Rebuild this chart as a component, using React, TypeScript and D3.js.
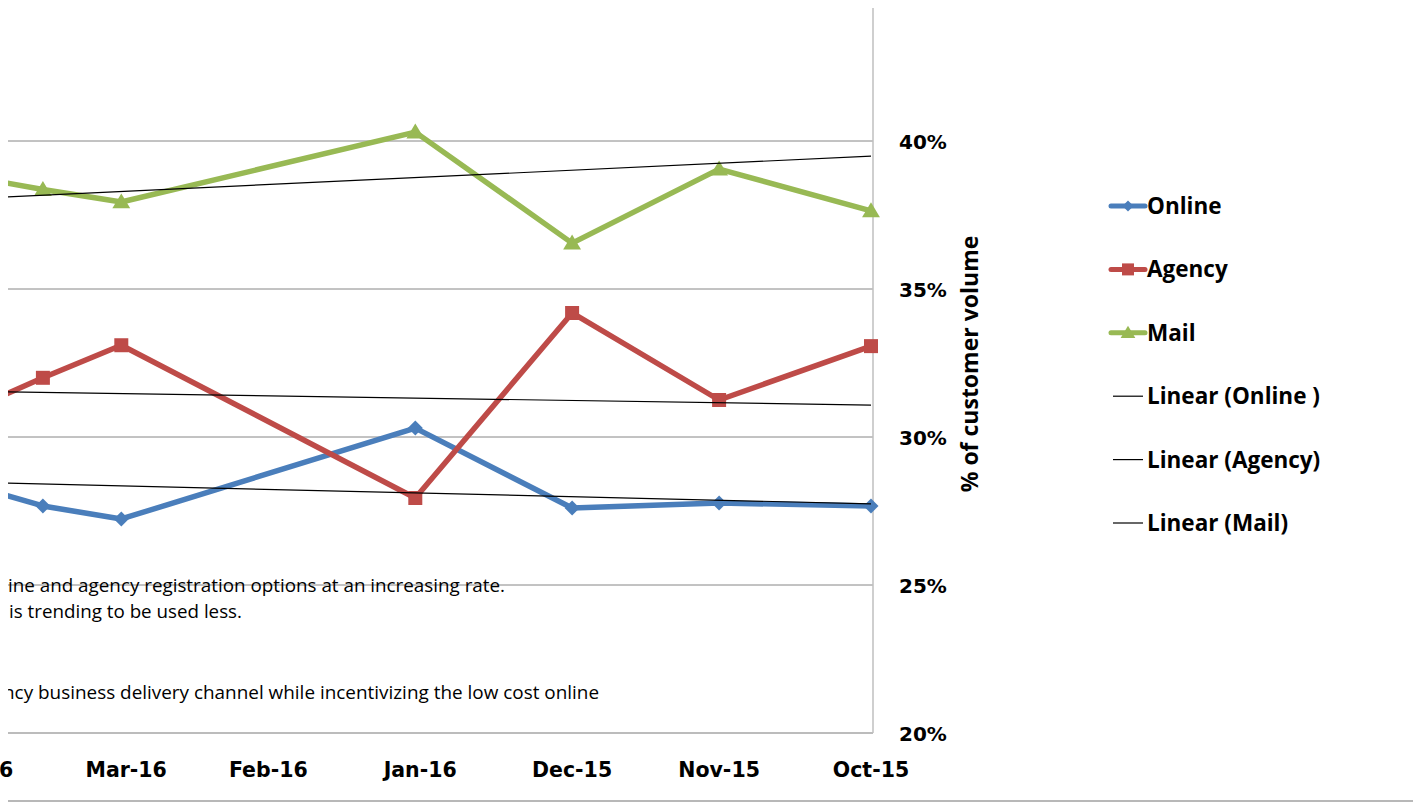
import React from "react";
import * as d3 from "d3";

const dates = ["2016-04-01", "2016-03-18", "2016-03-02", "2016-01-02", "2015-12-01", "2015-11-01", "2015-10-01"];
const online = [28.34, 27.67, 27.23, 30.3, 27.6, 27.77, 27.67];
const agency = [30.98, 32.0, 33.1, 27.94, 34.19, 31.25, 33.07];
const mail = [38.78, 38.36, 37.94, 40.3, 36.55, 39.05, 37.64];

const trendDates = ["2016-04-01", "2015-10-01"];
const trendOnline = [28.47, 27.74];
const trendAgency = [31.54, 31.08];
const trendMail = [38.06, 39.49];

const monthTicks = ["2015-10-01", "2015-11-01", "2015-12-01", "2016-01-01", "2016-02-01", "2016-03-01", "2016-04-01"];
const yTicks = [20, 25, 30, 35, 40];

const legendNames = ["Online", "Agency", "Mail", "Linear (Online )", "Linear (Agency)", "Linear (Mail)"];
const noteLines = [
  "ine and agency registration options at an increasing rate.",
  " is trending to be used less.",
  "ncy business delivery channel while incentivizing the low cost online",
];

const parse = d3.timeParse("%Y-%m-%d");
const fmt = d3.timeFormat("%b-%y");

const W = 1413;
const H = 804;
const plotLeft = 8;
const plotTop = 8;
const plotRight = 873;
const plotBottom = 733;

const x = d3
  .scaleTime()
  .domain([parse("2015-10-01")!, parse("2016-04-01")!])
  .range([871, 871 - 183 * 4.9]);
const y = d3.scaleLinear().domain([20, 45]).range([plotBottom, plotBottom - 148 * 5]);

const line = d3
  .line<[Date, number]>()
  .x((d) => x(d[0]))
  .y((d) => y(d[1]));

function diamond(cx: number, cy: number, r: number) {
  return `M${cx},${cy - r}L${cx + r},${cy}L${cx},${cy + r}L${cx - r},${cy}Z`;
}
function square(cx: number, cy: number, r: number) {
  return `M${cx - r},${cy - r}H${cx + r}V${cy + r}H${cx - r}Z`;
}
function triangle(cx: number, cy: number, r: number) {
  return `M${cx},${cy - r}L${cx + r * 1.05},${cy + r * 0.75}L${cx - r * 1.05},${cy + r * 0.75}Z`;
}

const series = [
  { name: "Online", values: online, color: "#4a7ebb", marker: diamond, r: 7.5, lr: 5.5 },
  { name: "Agency", values: agency, color: "#be4b48", marker: square, r: 7, lr: 6 },
  { name: "Mail", values: mail, color: "#98b954", marker: triangle, r: 8.5, lr: 7 },
];
const trends = [trendOnline, trendAgency, trendMail];

export default function App() {
  const pts = (vals: number[]) => dates.map((d, i) => [parse(d)!, vals[i]] as [Date, number]);
  const tpts = (vals: number[]) => trendDates.map((d, i) => [parse(d)!, vals[i]] as [Date, number]);
  const legendY = d3.scalePoint<string>().domain(legendNames).range([206, 523]);

  return (
    <svg
      width={W}
      height={H}
      style={{ position: "absolute", left: 0, top: 0, background: "#fff" }}
      fontFamily="'Open Sans', sans-serif"
    >
      <defs>
        <clipPath id="plotClip">
          <rect x={plotLeft} y={plotTop} width={W - plotLeft} height={H - plotTop} />
        </clipPath>
      </defs>
      <rect x={0} y={0} width={W} height={H} fill="#fff" />

      <g clipPath="url(#plotClip)">
        {/* gridlines */}
        {yTicks
          .filter((t) => t > 20)
          .map((t) => (
            <line key={t} x1={plotLeft} x2={plotRight} y1={y(t)} y2={y(t)} stroke="#868686" strokeWidth={1} />
          ))}
        {/* axes */}
        <line x1={plotLeft} x2={plotRight} y1={plotBottom} y2={plotBottom} stroke="#a6a6a6" strokeWidth={1.5} />
        <line x1={plotRight} x2={plotRight} y1={plotTop} y2={plotBottom} stroke="#bfbfbf" strokeWidth={1.5} />

        {/* note text */}
        <g fontSize={17.5} fill="#000">
          <text x={8} y={592} textLength={497} lengthAdjust="spacingAndGlyphs">{noteLines[0]}</text>
          <text x={9} y={618} textLength={233} lengthAdjust="spacingAndGlyphs">{noteLines[1]}</text>
          <text x={3} y={699} textLength={596} lengthAdjust="spacingAndGlyphs">{noteLines[2]}</text>
        </g>

        {/* series */}
        {series.map((s) => (
          <g key={s.name}>
            <path d={line(pts(s.values)) ?? ""} fill="none" stroke={s.color} strokeWidth={5.5} strokeLinejoin="round" />
            {pts(s.values).map((p, i) => (
              <path key={i} d={s.marker(x(p[0]), y(p[1]), s.r)} fill={s.color} />
            ))}
          </g>
        ))}

        {/* trend lines */}
        {trends.map((t, i) => (
          <path key={i} d={line(tpts(t)) ?? ""} fill="none" stroke="#000" strokeWidth={1.2} />
        ))}
      </g>

      {/* x labels */}
      <g fontFamily="'DejaVu Sans', sans-serif" fontWeight="bold" fontSize={20.5} textAnchor="middle" fill="#000">
        {monthTicks.map((m) => (
          <text key={m} x={x(parse(m)!)} y={777}>
            {fmt(parse(m)!)}
          </text>
        ))}
      </g>

      {/* y labels */}
      <g fontFamily="'DejaVu Sans', sans-serif" fontWeight="bold" fontSize={20} fill="#000">
        {yTicks.map((t) => (
          <text key={t} x={899} y={y(t) + 8}>
            {t}%
          </text>
        ))}
      </g>
      <text
        transform={`translate(978,364) rotate(-90)`}
        textAnchor="middle"
        fontWeight="bold"
        fontSize={23}
        fill="#000"
      >
        % of customer volume
      </text>

      {/* legend */}
      <g fontWeight="bold" fontSize={22.5} fill="#000">
        {legendNames.map((n, i) => {
          const ly = legendY(n)!;
          const s = series[i];
          return (
            <g key={n}>
              {s ? (
                <>
                  <line x1={1111} x2={1145} y1={ly} y2={ly} stroke={s.color} strokeWidth={5} strokeLinecap="round" />
                  <path d={s.marker(1128, ly, s.lr)} fill={s.color} />
                </>
              ) : (
                <line x1={1113} x2={1143} y1={ly} y2={ly} stroke="#000" strokeWidth={1.2} />
              )}
              <text x={1147} y={ly + 8}>
                {n}
              </text>
            </g>
          );
        })}
      </g>

      {/* frame bottom */}
      <line x1={plotLeft} x2={W} y1={801} y2={801} stroke="#a0a0a0" strokeWidth={1.5} />
    </svg>
  );
}
